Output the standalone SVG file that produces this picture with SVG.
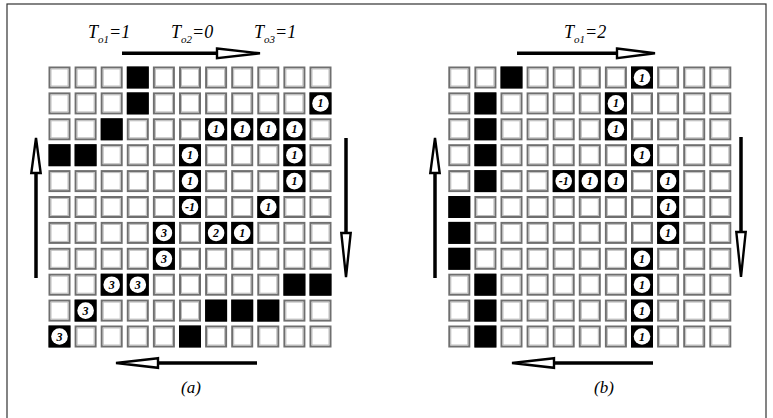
<svg xmlns="http://www.w3.org/2000/svg" xmlns:xlink="http://www.w3.org/1999/xlink" width="773" height="418" viewBox="0 0 773 418">
<style>
.lbl{font-family:"Liberation Serif","DejaVu Serif",serif;font-style:italic;font-size:18px;fill:#000}
.sub{font-size:11px}
.num{font-family:"Liberation Serif","DejaVu Serif",serif;font-style:italic;font-weight:bold;font-size:12px;text-anchor:middle;fill:#000}
.cap{font-family:"Liberation Serif","DejaVu Serif",serif;font-style:italic;font-size:17px;text-anchor:middle;fill:#000}
.shaft{stroke:#000;stroke-width:3.5;fill:none}
.head{fill:#fff;stroke:#000;stroke-width:2.4;stroke-linejoin:miter}
</style>
<defs>
<g id="w"><rect x="1" y="1" width="20" height="20" fill="#fff" stroke="#6f6f6f" stroke-width="2"/><rect x="2.5" y="2.5" width="17" height="17" fill="none" stroke="#bdbdbd" stroke-width="1"/></g>
<rect id="b" width="22" height="22" fill="#000"/>
<g id="n"><rect width="22" height="22" fill="#000"/><circle cx="11" cy="11" r="8.3" fill="#fff"/></g>
<g id="row">
<use xlink:href="#w" x="0"/><use xlink:href="#w" x="26.1"/><use xlink:href="#w" x="52.2"/><use xlink:href="#w" x="78.3"/><use xlink:href="#w" x="104.4"/><use xlink:href="#w" x="130.5"/><use xlink:href="#w" x="156.6"/><use xlink:href="#w" x="182.7"/><use xlink:href="#w" x="208.8"/><use xlink:href="#w" x="234.9"/><use xlink:href="#w" x="261"/>
</g>
<g id="grid">
<use xlink:href="#row" y="0"/><use xlink:href="#row" y="25.9"/><use xlink:href="#row" y="51.8"/><use xlink:href="#row" y="77.7"/><use xlink:href="#row" y="103.6"/><use xlink:href="#row" y="129.5"/><use xlink:href="#row" y="155.4"/><use xlink:href="#row" y="181.3"/><use xlink:href="#row" y="207.2"/><use xlink:href="#row" y="233.1"/><use xlink:href="#row" y="259"/>
</g>
</defs>
<rect x="0" y="0" width="773" height="418" fill="#fff"/>
<rect id="frame" x="7" y="4" width="759" height="420" fill="none" stroke="#333" stroke-width="1.2"/>

<g id="gridA" transform="translate(48.5,66.5)">
<use xlink:href="#grid"/>
<use xlink:href="#b" x="78.3" y="0"/>
<use xlink:href="#b" x="78.3" y="25.9"/>
<use xlink:href="#n" x="261" y="25.9"/><text class="num" x="272" y="40.9">1</text>
<use xlink:href="#b" x="52.2" y="51.8"/>
<use xlink:href="#n" x="156.6" y="51.8"/><text class="num" x="167.6" y="66.8">1</text>
<use xlink:href="#n" x="182.7" y="51.8"/><text class="num" x="193.7" y="66.8">1</text>
<use xlink:href="#n" x="208.8" y="51.8"/><text class="num" x="219.8" y="66.8">1</text>
<use xlink:href="#n" x="234.9" y="51.8"/><text class="num" x="245.9" y="66.8">1</text>
<use xlink:href="#b" x="0" y="77.7"/>
<use xlink:href="#b" x="26.1" y="77.7"/>
<use xlink:href="#n" x="130.5" y="77.7"/><text class="num" x="141.5" y="92.7">1</text>
<use xlink:href="#n" x="234.9" y="77.7"/><text class="num" x="245.9" y="92.7">1</text>
<use xlink:href="#n" x="130.5" y="103.6"/><text class="num" x="141.5" y="118.6">1</text>
<use xlink:href="#n" x="234.9" y="103.6"/><text class="num" x="245.9" y="118.6">1</text>
<use xlink:href="#n" x="130.5" y="129.5"/><text class="num" x="141.5" y="144.5">-1</text>
<use xlink:href="#n" x="208.8" y="129.5"/><text class="num" x="219.8" y="144.5">1</text>
<use xlink:href="#n" x="104.4" y="155.4"/><text class="num" x="115.4" y="170.4">3</text>
<use xlink:href="#n" x="156.6" y="155.4"/><text class="num" x="167.6" y="170.4">2</text>
<use xlink:href="#n" x="182.7" y="155.4"/><text class="num" x="193.7" y="170.4">1</text>
<use xlink:href="#n" x="104.4" y="181.3"/><text class="num" x="115.4" y="196.3">3</text>
<use xlink:href="#n" x="52.2" y="207.2"/><text class="num" x="63.2" y="222.2">3</text>
<use xlink:href="#n" x="78.3" y="207.2"/><text class="num" x="89.3" y="222.2">3</text>
<use xlink:href="#b" x="234.9" y="207.2"/>
<use xlink:href="#b" x="261" y="207.2"/>
<use xlink:href="#n" x="26.1" y="233.1"/><text class="num" x="37.1" y="248.1">3</text>
<use xlink:href="#b" x="156.6" y="233.1"/>
<use xlink:href="#b" x="182.7" y="233.1"/>
<use xlink:href="#b" x="208.8" y="233.1"/>
<use xlink:href="#n" x="0" y="259"/><text class="num" x="11" y="274">3</text>
<use xlink:href="#b" x="130.5" y="259"/>
</g>

<g id="gridB" transform="translate(448.3,66.5)">
<use xlink:href="#grid"/>
<use xlink:href="#b" x="52.2" y="0"/>
<use xlink:href="#n" x="182.7" y="0"/><text class="num" x="193.7" y="15">1</text>
<use xlink:href="#b" x="26.1" y="25.9"/>
<use xlink:href="#n" x="156.6" y="25.9"/><text class="num" x="167.6" y="40.9">1</text>
<use xlink:href="#b" x="26.1" y="51.8"/>
<use xlink:href="#n" x="156.6" y="51.8"/><text class="num" x="167.6" y="66.8">1</text>
<use xlink:href="#b" x="26.1" y="77.7"/>
<use xlink:href="#n" x="182.7" y="77.7"/><text class="num" x="193.7" y="92.7">1</text>
<use xlink:href="#b" x="26.1" y="103.6"/>
<use xlink:href="#n" x="104.4" y="103.6"/><text class="num" x="115.4" y="118.6">-1</text>
<use xlink:href="#n" x="130.5" y="103.6"/><text class="num" x="141.5" y="118.6">1</text>
<use xlink:href="#n" x="156.6" y="103.6"/><text class="num" x="167.6" y="118.6">1</text>
<use xlink:href="#n" x="208.8" y="103.6"/><text class="num" x="219.8" y="118.6">1</text>
<use xlink:href="#b" x="0" y="129.5"/>
<use xlink:href="#n" x="208.8" y="129.5"/><text class="num" x="219.8" y="144.5">1</text>
<use xlink:href="#b" x="0" y="155.4"/>
<use xlink:href="#n" x="208.8" y="155.4"/><text class="num" x="219.8" y="170.4">1</text>
<use xlink:href="#b" x="0" y="181.3"/>
<use xlink:href="#n" x="182.7" y="181.3"/><text class="num" x="193.7" y="196.3">1</text>
<use xlink:href="#b" x="26.1" y="207.2"/>
<use xlink:href="#n" x="182.7" y="207.2"/><text class="num" x="193.7" y="222.2">1</text>
<use xlink:href="#b" x="26.1" y="233.1"/>
<use xlink:href="#n" x="182.7" y="233.1"/><text class="num" x="193.7" y="248.1">1</text>
<use xlink:href="#b" x="26.1" y="259"/>
<use xlink:href="#n" x="182.7" y="259"/><text class="num" x="193.7" y="274">1</text>
</g>

<g id="connectors">
<path class="shaft" d="M122,53.3H218"/><polygon class="head" points="217,48.5 260,53.3 217,58.1"/>
<path class="shaft" d="M346,138V234"/><polygon class="head" points="341.3,233 346,277 350.7,233"/>
<path class="shaft" d="M257,363H157"/><polygon class="head" points="158,358.2 116,363 158,367.8"/>
<path class="shaft" d="M36,278V172"/><polygon class="head" points="31.3,173 36,138 40.7,173"/>
<path class="shaft" d="M517,53.3H618"/><polygon class="head" points="617,48.5 655,53.3 617,58.1"/>
<path class="shaft" d="M741,137V233"/><polygon class="head" points="736.3,232 741,277 745.7,232"/>
<path class="shaft" d="M653,363H553"/><polygon class="head" points="554,358.2 512,363 554,367.8"/>
<path class="shaft" d="M435,278V172"/><polygon class="head" points="430.3,173 435,138 439.7,173"/>
</g>

<g id="labels">
<text class="lbl" x="88" y="38">T<tspan class="sub" dy="5">o1</tspan><tspan dy="-5">=1</tspan></text>
<text class="lbl" x="171" y="38">T<tspan class="sub" dy="5">o2</tspan><tspan dy="-5">=0</tspan></text>
<text class="lbl" x="254" y="38">T<tspan class="sub" dy="5">o3</tspan><tspan dy="-5">=1</tspan></text>
<text class="lbl" x="564" y="38">T<tspan class="sub" dy="5">o1</tspan><tspan dy="-5">=2</tspan></text>
<text class="cap" x="191" y="393">(a)</text>
<text class="cap" x="604" y="393">(b)</text>
</g>
</svg>
